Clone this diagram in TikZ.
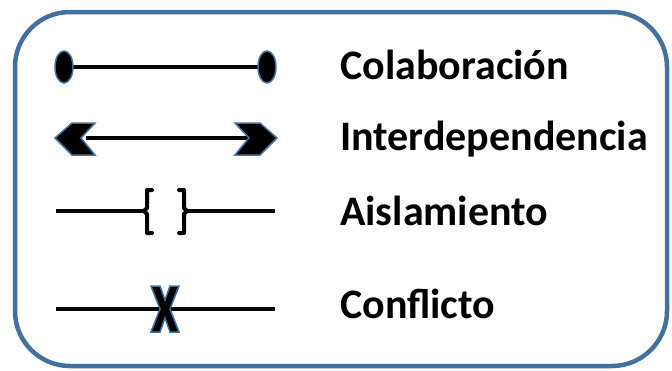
\documentclass[tikz,border=0pt]{standalone}
\usepackage{fontspec}
\setmainfont{Carlito}
\usepackage{xcolor}
\definecolor{frameblue}{RGB}{65,113,156}

\tikzset{
	frame/.style={draw=frameblue, line width=4.5pt, rounded corners=55pt},
	link/.style={draw=black, line width=4pt},
	tipmark/.style={fill=black, draw=frameblue, line width=1.5pt, line join=miter},
	bracemark/.style={draw=black, line width=4pt, line cap=round, line join=round},
	legend/.style={anchor=base west, inner sep=0pt, font=\fontsize{42}{50}\selectfont\bfseries}
}

\begin{document}
\begin{tikzpicture}[x=1pt, y=-1pt]
	\useasboundingbox (0,0) rectangle (672,370);

	% Outer frame
	\draw[frame] (15,12) rectangle (667,366);

	% Colaboracion
	\coordinate (c1) at (64,67);
	\coordinate (c2) at (267,67);
	\draw[link] (c1) -- (c2);
	\draw[tipmark] (c1) ellipse (9 and 16);
	\draw[tipmark] (c2) ellipse (9 and 16);
	\node[legend] (colab) at (340,79) {Colaboración};

	% Interdependencia
	\coordinate (i1) at (86,138);
	\coordinate (i2) at (249,138);
	\draw[link] (i1) -- (i2);
	\draw[tipmark] (95,123) -- (72,123) -- (55,138) -- (72,155) -- (95,155) -- (81,138) -- cycle;
	\draw[tipmark] (235,123) -- (260,123) -- (277,138) -- (260,155) -- (235,155) -- (249,138) -- cycle;
	\node[legend] (inter) at (340,150) {Interdependencia};

	% Aislamiento
	\coordinate (a1) at (56,211);
	\coordinate (a2) at (144,211);
	\coordinate (a3) at (187,211);
	\coordinate (a4) at (275,211);
	\draw[link] (a1) -- (a2);
	\draw[link] (a3) -- (a4);
	\draw[bracemark] (152,190) -- (147,190) -- (147,208) -- (a2) -- (147,214) -- (147,233) -- (152,233);
	\draw[bracemark] (179,190) -- (184,190) -- (184,208) -- (a3) -- (184,214) -- (184,233) -- (179,233);
	\node[legend] (aisla) at (340,225) {Aislamiento};

	% Conflicto
	\coordinate (k1) at (56,309);
	\coordinate (k2) at (275,309);
	\draw[link] (k1) -- (k2);
	\draw[tipmark] (151,286) -- (160,286) -- (165,300) -- (170,286) -- (179,286) -- (170,309)
		-- (179,332) -- (170,332) -- (165,318) -- (160,332) -- (151,332) -- (160,309) -- cycle;
	\node[legend] (confl) at (340,318) {Conflicto};
\end{tikzpicture}
\end{document}
